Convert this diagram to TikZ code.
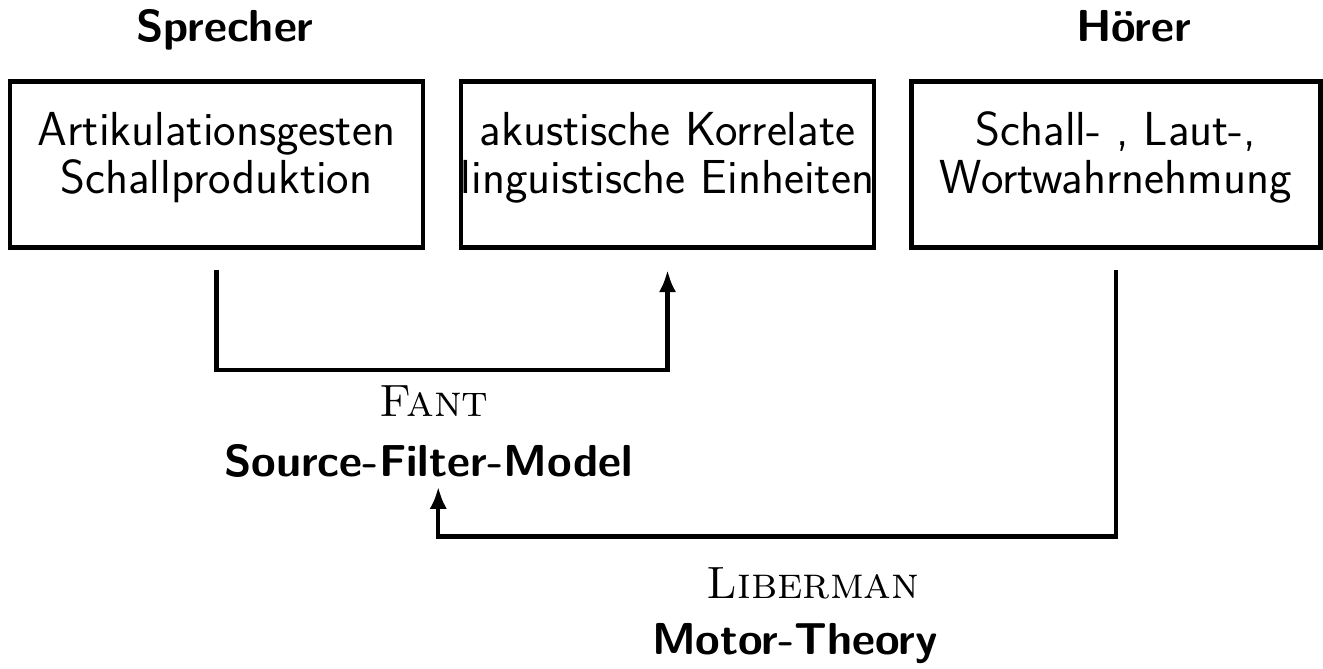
\documentclass[tikz,border=0pt]{standalone}
\usepackage{tikz}
\usetikzlibrary{arrows.meta,positioning}

\tikzset{
  stufe/.style={draw,line width=1.8pt,align=center,
    font=\sffamily\fontsize{19.4}{19.5}\selectfont,
    minimum width=5.9cm,minimum height=2.37cm,inner sep=0pt,text depth=9.5pt},
  kopf/.style={anchor=base,font=\sffamily\bfseries\fontsize{18.2}{22}\selectfont},
  autor/.style={anchor=base,font=\rmfamily\scshape\fontsize{18.4}{22}\selectfont},
  modell/.style={anchor=base,font=\sffamily\bfseries\fontsize{18.2}{22}\selectfont},
  verb/.style={line width=1.8pt,-{Latex[length=9pt,width=7pt]}}
}

\begin{document}
\begin{tikzpicture}
	  	\useasboundingbox (0,0) rectangle (18.9,9.543);
	  	% Stufen der Sprachkommunikation
	  	\node[stufe] (artik) at (3.093,7.193) {Artikulationsgesten\\Schallproduktion};
	  	\node[stufe,minimum width=5.886cm] (akust) at (9.536,7.193) {akustische Korrelate\\linguistische Einheiten};
	  	\node[stufe,minimum width=5.843cm] (wahrn) at (15.943,7.193) {Schall- , Laut-,\\Wortwahrnehmung};
	  	\node[kopf] (sprecher) at (3.214,8.943) {Sprecher};
	  	\node[kopf] (hoerer) at (16.193,8.943) {Hörer};
	  	% Modelle
	  	\node[autor] (fant) at (6.2,3.586) {Fant};
	  	\node[modell] (sfm) at (6.121,2.729) {Source-Filter-Model};
	  	\node[autor] (liberman) at (11.614,1.0) {Liberman};
	  	\node[modell] (motor) at (11.357,0.186) {Motor-Theory};
	  	% Verbindungen
	  	\draw[verb] ([yshift=-2.9mm]artik.south) -- ++(0,-1.43) -| ([yshift=-2.9mm]akust.south);
	  	\draw[verb] ([yshift=-2.9mm]wahrn.south) -- ++(0,-3.81) -| ([xshift=1.4mm]sfm.south);
	  \end{tikzpicture}
\end{document}
